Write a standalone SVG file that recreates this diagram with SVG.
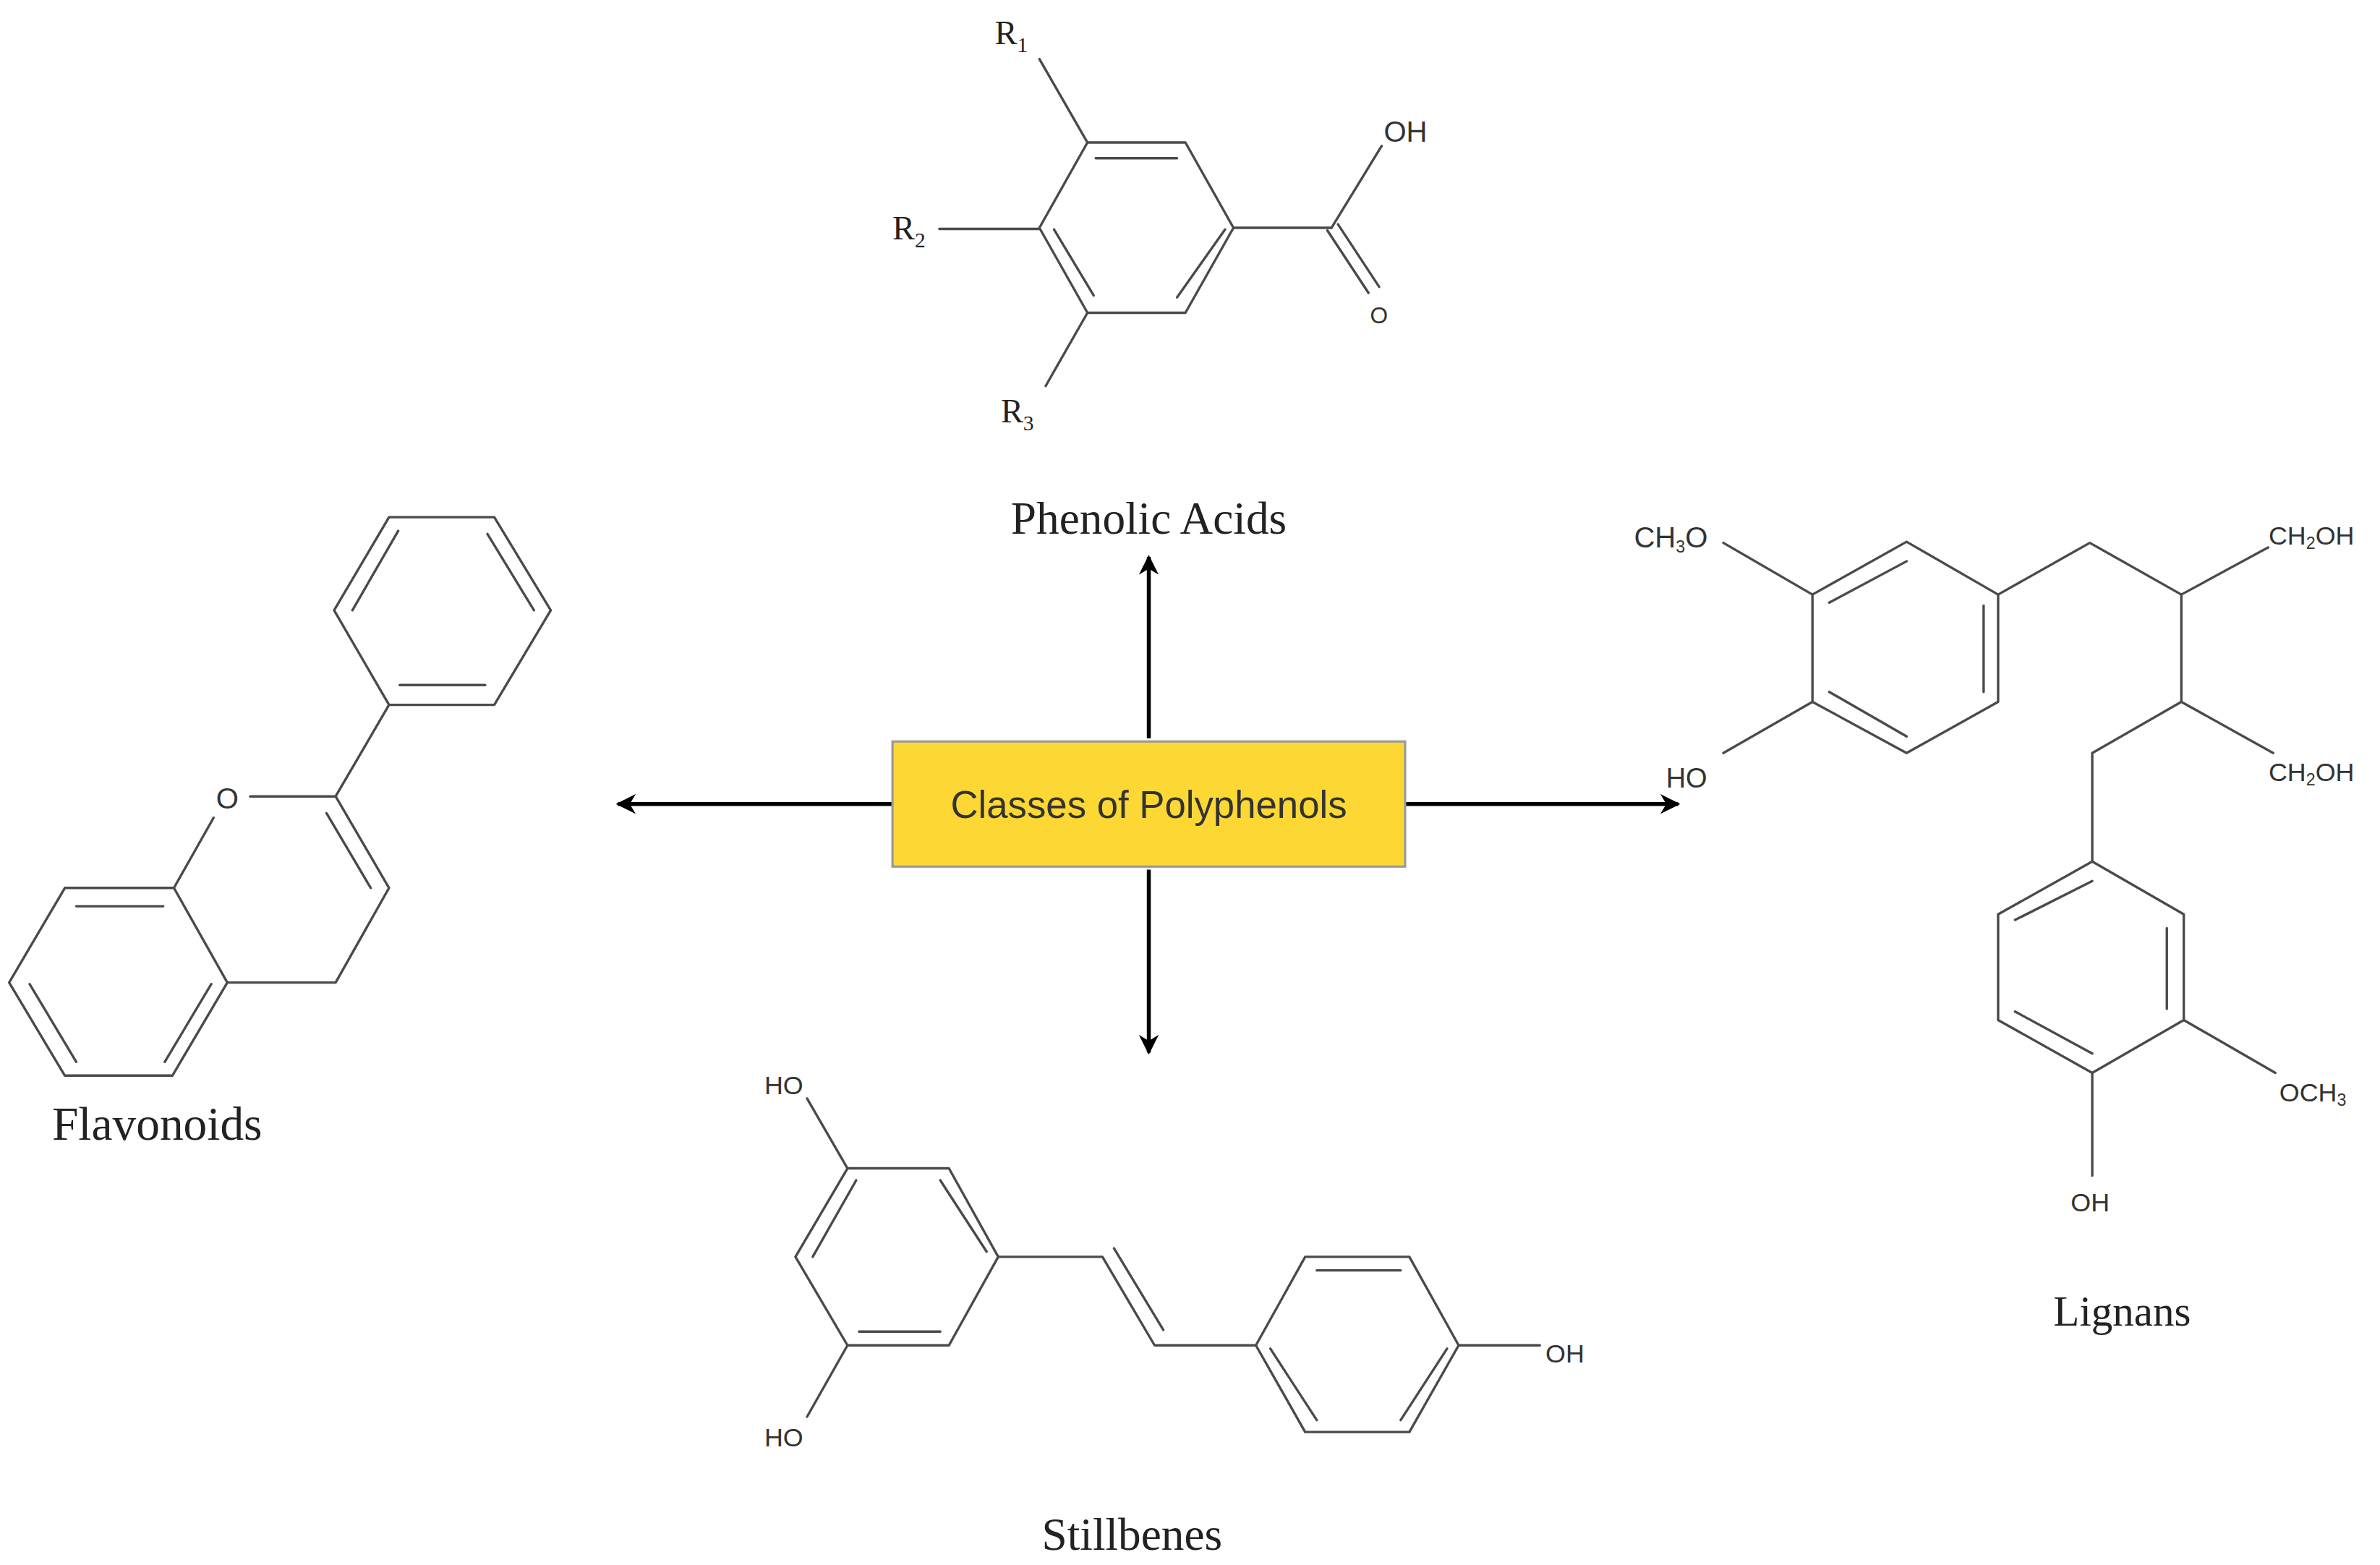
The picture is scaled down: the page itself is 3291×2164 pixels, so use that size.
<svg xmlns="http://www.w3.org/2000/svg" width="3291" height="2164" viewBox="0 0 3291 2164">
<defs>
<style>
.b{stroke:#4a4a4a;stroke-width:1.6;fill:none;stroke-linecap:round;stroke-linejoin:round}
.s{font-family:"Liberation Serif","Times New Roman",serif;fill:#222}
.a{font-family:"Liberation Sans",Arial,sans-serif;fill:#333}
.ar{stroke:#000;stroke-width:2.6;fill:none}
</style>
<marker id="h" viewBox="0 0 10 10" refX="9" refY="5" markerWidth="5" markerHeight="5" orient="auto" markerUnits="strokeWidth"><path d="M0,0 L10,5 L0,10 L3,5 Z" fill="#000"/></marker>
</defs>
<rect width="3291" height="2164" fill="#fff"/>
<g transform="scale(2.1096)">
<g id="connectors">
<line class="ar" x1="753" y1="484" x2="753" y2="365" marker-end="url(#h)"/>
<line class="ar" x1="753" y1="570" x2="753" y2="690" marker-end="url(#h)"/>
<line class="ar" x1="585" y1="527" x2="405" y2="527" marker-end="url(#h)"/>
<line class="ar" x1="921" y1="527" x2="1100" y2="527" marker-end="url(#h)"/>
</g>
<g id="center">
<rect x="585" y="486" width="336" height="82" fill="#FDD835" stroke="#999" stroke-width="1.5"/>
<text class="a" x="753" y="536" font-size="25" text-anchor="middle" fill="#222">Classes of Polyphenols</text>
</g>
<g id="phenolic">
<polygon class="b" points="712.8,93.4 777,93.4 808.5,149.3 777,205 712.8,205 681.3,149.3"/>
<line class="b" x1="718.2" y1="103.7" x2="771.5" y2="103.7"/>
<line class="b" x1="690.9" y1="150.4" x2="716.9" y2="193.7"/>
<line class="b" x1="803" y1="150.4" x2="771.5" y2="194.9"/>
<line class="b" x1="681.3" y1="38.7" x2="712.8" y2="93.4"/>
<line class="b" x1="615.7" y1="150" x2="681.3" y2="150"/>
<line class="b" x1="685.4" y1="253" x2="712.8" y2="205"/>
<line class="b" x1="808.5" y1="149.3" x2="872.8" y2="149.3"/>
<line class="b" x1="872.8" y1="149.3" x2="905.6" y2="95.7"/>
<line class="b" x1="870" y1="151" x2="897" y2="192"/>
<line class="b" x1="877" y1="147" x2="904" y2="188"/>
<text class="s" x="652" y="29" font-size="22">R<tspan font-size="14" dy="5">1</tspan></text>
<text class="s" x="585" y="157" font-size="22">R<tspan font-size="14" dy="5">2</tspan></text>
<text class="s" x="656" y="277" font-size="22">R<tspan font-size="14" dy="5">3</tspan></text>
<text class="a" x="907" y="93" font-size="19">OH</text>
<text class="a" x="898" y="212" font-size="15">O</text>
<text class="s" x="753" y="350" font-size="30" text-anchor="middle">Phenolic Acids</text>
</g>
<g id="flavonoids">
<polygon class="b" points="255,339 324,339 361,400 324,462 255,462 219,400"/>
<line class="b" x1="261" y1="348" x2="231" y2="400"/>
<line class="b" x1="319.5" y1="350" x2="350" y2="400"/>
<line class="b" x1="262" y1="449" x2="318" y2="449"/>
<line class="b" x1="255" y1="462" x2="220" y2="522"/>
<line class="b" x1="164" y1="522" x2="220" y2="522"/>
<polyline class="b" points="220,522 255,582 220,644 149,644"/>
<line class="b" x1="214" y1="533" x2="243" y2="582"/>
<line class="b" x1="114" y1="582" x2="140" y2="536"/>
<polygon class="b" points="42.5,582 114,582 149,644 113,705 42.5,705 6,644"/>
<line class="b" x1="50" y1="594" x2="107" y2="594"/>
<line class="b" x1="19.4" y1="645" x2="50" y2="696"/>
<line class="b" x1="108" y1="696" x2="138.5" y2="645"/>
<text class="a" x="149" y="530" font-size="19" text-anchor="middle">O</text>
<text class="s" x="103" y="747" font-size="31" text-anchor="middle">Flavonoids</text>
</g>
<g id="lignans">
<polygon class="b" points="1249.7,355.1 1309.7,389.7 1309.7,460 1249.7,493.6 1188,460 1188,389.7"/>
<line class="b" x1="1199" y1="395" x2="1249.7" y2="367.9"/>
<line class="b" x1="1300.2" y1="397" x2="1300.2" y2="453.5"/>
<line class="b" x1="1199" y1="453.5" x2="1249.7" y2="482.7"/>
<line class="b" x1="1129.6" y1="355.8" x2="1188" y2="389.7"/>
<line class="b" x1="1129.6" y1="493.6" x2="1188" y2="460"/>
<polyline class="b" points="1309.7,389.7 1369.8,355.8 1429.8,389.7 1486.7,358.8"/>
<line class="b" x1="1429.8" y1="389.7" x2="1429.8" y2="460"/>
<polyline class="b" points="1490,493.6 1429.8,460 1371.4,493.6 1371.4,564.7"/>
<polygon class="b" points="1371.4,564.7 1431.4,599.3 1431.4,668.6 1371.4,703.2 1309.7,668.6 1309.7,599.3"/>
<line class="b" x1="1320.8" y1="603" x2="1371.4" y2="577.5"/>
<line class="b" x1="1420.3" y1="608.4" x2="1420.3" y2="661.3"/>
<line class="b" x1="1320.8" y1="663" x2="1371.4" y2="690.5"/>
<line class="b" x1="1431.4" y1="668.6" x2="1491.4" y2="703.2"/>
<line class="b" x1="1371.4" y1="703.2" x2="1371.4" y2="770.6"/>
<text class="a" x="1071" y="359" font-size="19">CH<tspan font-size="11" dy="3">3</tspan><tspan dy="-3">O</tspan></text>
<text class="a" x="1092" y="516" font-size="18">HO</text>
<text class="a" x="1487" y="357" font-size="17">CH<tspan font-size="11" dy="3">2</tspan><tspan dy="-3">OH</tspan></text>
<text class="a" x="1487" y="512" font-size="17">CH<tspan font-size="11" dy="3">2</tspan><tspan dy="-3">OH</tspan></text>
<text class="a" x="1494" y="722" font-size="17">OCH<tspan font-size="11" dy="3">3</tspan></text>
<text class="a" x="1370" y="794" font-size="17" text-anchor="middle">OH</text>
<text class="s" x="1391" y="869" font-size="28" text-anchor="middle">Lignans</text>
</g>
<g id="stilbenes">
<polygon class="b" points="555.5,765.8 622,765.8 654.3,823.8 622,881.8 555.5,881.8 521.4,823.8"/>
<line class="b" x1="616.3" y1="773.6" x2="646.7" y2="820.4"/>
<line class="b" x1="532.7" y1="823.8" x2="561.2" y2="773.6"/>
<line class="b" x1="563.1" y1="872.8" x2="616.3" y2="872.8"/>
<line class="b" x1="529" y1="720" x2="555.5" y2="765.8"/>
<line class="b" x1="555.5" y1="881.8" x2="529" y2="928.6"/>
<polyline class="b" points="654.3,823.8 722.6,823.8 756.8,881.8 823.2,881.8"/>
<line class="b" x1="730.2" y1="818.2" x2="762.5" y2="871.7"/>
<polygon class="b" points="823.2,881.8 855.5,823.8 923.8,823.8 956.1,881.8 923.8,938.6 855.5,938.6"/>
<line class="b" x1="863.1" y1="832.7" x2="918.1" y2="832.7"/>
<line class="b" x1="832.7" y1="884" x2="863.1" y2="930.8"/>
<line class="b" x1="918.1" y1="930.8" x2="948.5" y2="884"/>
<line class="b" x1="956.1" y1="881.8" x2="1009.3" y2="881.8"/>
<text class="a" x="501" y="717" font-size="17">HO</text>
<text class="a" x="501" y="948" font-size="17">HO</text>
<text class="a" x="1013" y="893" font-size="17">OH</text>
<text class="s" x="742" y="1016" font-size="30" text-anchor="middle">Stillbenes</text>
</g>
</g>
</svg>
